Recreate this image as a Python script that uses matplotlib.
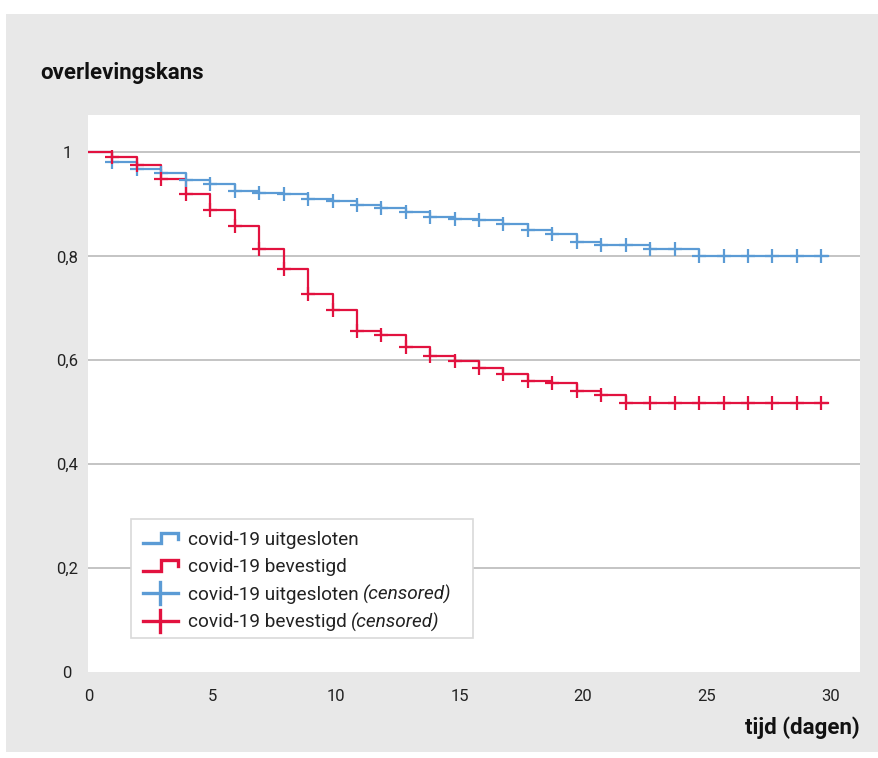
import matplotlib
matplotlib.use("Agg")
import matplotlib.pyplot as plt
from matplotlib.lines import Line2D
from matplotlib.legend_handler import HandlerBase
from matplotlib.patches import Rectangle

# ---------------- data ----------------
days = [0.97, 1.96, 2.95, 3.94, 4.93, 5.91, 6.90, 7.89, 8.88, 9.87,
        10.86, 11.84, 12.83, 13.82, 14.81, 15.80, 16.78, 17.77, 18.76, 19.75,
        20.74, 21.73, 22.71, 23.70, 24.69, 25.68, 26.67, 27.66, 28.64, 29.63]
end_day = 29.9

uitgesloten = [0.981, 0.969, 0.961, 0.946, 0.940, 0.926, 0.922, 0.920, 0.911, 0.906,
               0.898, 0.893, 0.885, 0.876, 0.872, 0.869, 0.863, 0.850, 0.843, 0.827,
               0.822, 0.821, 0.815, 0.814, 0.801, 0.801, 0.801, 0.801, 0.801, 0.801]

bevestigd = [0.991, 0.976, 0.948, 0.919, 0.890, 0.858, 0.814, 0.775, 0.728, 0.696,
             0.656, 0.649, 0.626, 0.609, 0.598, 0.586, 0.573, 0.561, 0.557, 0.540,
             0.534, 0.517, 0.517, 0.517, 0.517, 0.517, 0.517, 0.517, 0.517, 0.517]

x_ticks = [0, 5, 10, 15, 20, 25, 30]
y_ticks = [0, 0.2, 0.4, 0.6, 0.8, 1.0]
y_tick_labels = ["0", "0,2", "0,4", "0,6", "0,8", "1"]

labels = ["covid-19 uitgesloten", "covid-19 bevestigd",
          "covid-19 uitgesloten", "covid-19 bevestigd"]
label_suffix = ["", "", "(censored)", "(censored)"]

BLUE = "#5B9BD5"
RED = "#E2123F"
GRID = "#BFBFBF"
BG = "#E8E8E8"

plt.rcParams["font.family"] = ["Roboto", "DejaVu Sans"]

W, H = 879, 758
fig = plt.figure(figsize=(W / 100, H / 100), dpi=100)
fig.patch.set_facecolor("white")
fig.patches.append(Rectangle((6 / W, 1 - 752 / H), (W - 6) / W, (752 - 14) / H,
                             transform=fig.transFigure, facecolor=BG,
                             edgecolor="none", zorder=-10))

L, R, T, B = 88.5, 860, 115, 672
ax = fig.add_axes([L / W, 1 - B / H, (R - L) / W, (B - T) / H])
ax.set_zorder(1)
ax.set_facecolor("white")
ax.set_xlim(0, 31.2)
ax.set_ylim(0, 1.072)

for s in ax.spines.values():
    s.set_visible(False)

ax.set_yticks(y_ticks)
ax.set_yticklabels(y_tick_labels)
ax.set_xticks(x_ticks)
ax.tick_params(length=0, labelsize=12, colors="#222222")
ax.tick_params(axis="x", pad=12.5)
ax.tick_params(axis="y", pad=15.5)
for lab in ax.get_yticklabels():
    lab.set_horizontalalignment("center")

for yv in y_ticks[1:]:
    ax.axhline(yv, color=GRID, lw=1.3, zorder=1)

def step_xy(vals):
    xs = [0] + days + [end_day]
    ys = [1.0] + vals + [vals[-1]]
    return xs, ys

for vals, col in [(uitgesloten, BLUE), (bevestigd, RED)]:
    xs, ys = step_xy(vals)
    ax.step(xs, ys, where="post", color=col, lw=1.6, zorder=3)
for vals, col in [(uitgesloten, BLUE), (bevestigd, RED)]:
    ax.plot(days, vals, ls="none", marker="+", ms=10, mew=1.6, color=col, zorder=4)

fig.text(40 / W, 1 - 73 / H, "overlevingskans", fontsize=16, fontweight="bold",
         ha="left", va="center", color="#111111")
fig.text(860 / W, 1 - 728 / H, "tijd (dagen)", fontsize=16, fontweight="bold",
         ha="right", va="center", color="#111111")

class StepHandler(HandlerBase):
    def create_artists(self, legend, orig_handle, xdescent, ydescent, width, height,
                       fontsize, trans):
        x0, y0 = -xdescent, -ydescent
        xs = [x0, x0 + 0.52 * width, x0 + 0.52 * width, x0 + width, x0 + width]
        ys = [y0 + 0.05 * height, y0 + 0.05 * height, y0 + 0.95 * height,
              y0 + 0.95 * height, y0 + 0.45 * height]
        ln = Line2D(xs, ys, color=orig_handle.get_color(), lw=2.4,
                    solid_joinstyle="miter", transform=trans)
        return [ln]

class PlusHandler(HandlerBase):
    def create_artists(self, legend, orig_handle, xdescent, ydescent, width, height,
                       fontsize, trans):
        x0, y0 = -xdescent, -ydescent
        ym = y0 + 0.5 * height
        h = Line2D([x0, x0 + width], [ym, ym], color=orig_handle.get_color(), lw=2.4,
                   transform=trans)
        v = Line2D([x0 + 0.5 * width] * 2, [ym - 0.95 * height, ym + 0.95 * height],
                   color=orig_handle.get_color(), lw=2.4, transform=trans)
        return [h, v]

h_blue = Line2D([], [], color=BLUE)
h_red = Line2D([], [], color=RED)
h_bplus = Line2D([], [], color=BLUE, marker="+")
h_rplus = Line2D([], [], color=RED, marker="+")

FS = 13.7
leg = fig.legend([h_blue, h_red, h_bplus, h_rplus], labels,
                 handler_map={h_blue: StepHandler(), h_red: StepHandler(),
                              h_bplus: PlusHandler(), h_rplus: PlusHandler()},
                 loc="upper left", bbox_to_anchor=(131 / W, 1 - 519 / H),
                 bbox_transform=fig.transFigure, frameon=False,
                 fontsize=FS, handlelength=1.85, handleheight=0.56, handletextpad=0.5,
                 labelspacing=0.5, borderpad=0.62, borderaxespad=0)
leg.set_zorder(5)
for t in leg.get_texts():
    t.set_color("#222222")

# italic suffixes appended after the legend labels
fig.canvas.draw()
extra = []
for t, suf in zip(leg.get_texts(), label_suffix):
    if not suf:
        continue
    bb = t.get_window_extent()
    xd, yd = t.get_transform().transform(t.get_position())
    tt = fig.text(0, 0, suf, fontsize=FS, style="italic", color="#222222",
                  ha="left", va=t.get_va(), transform=None, zorder=10)
    tt.set_position((bb.x1 + 4.5, yd))
    extra.append(tt)

# legend frame drawn as a separate rectangle that also encloses the suffixes
fig.canvas.draw()
rmax = max(tt.get_window_extent().x1 for tt in extra)
lbb = leg.get_window_extent()
fig.patches.append(Rectangle((lbb.x0, lbb.y0 + 5), rmax + 22 - lbb.x0, lbb.height - 5,
                             transform=None, facecolor="white", edgecolor="#D9D9D9",
                             lw=1.2, zorder=4))

fig.savefig("out.png", dpi=100, facecolor=fig.get_facecolor())
